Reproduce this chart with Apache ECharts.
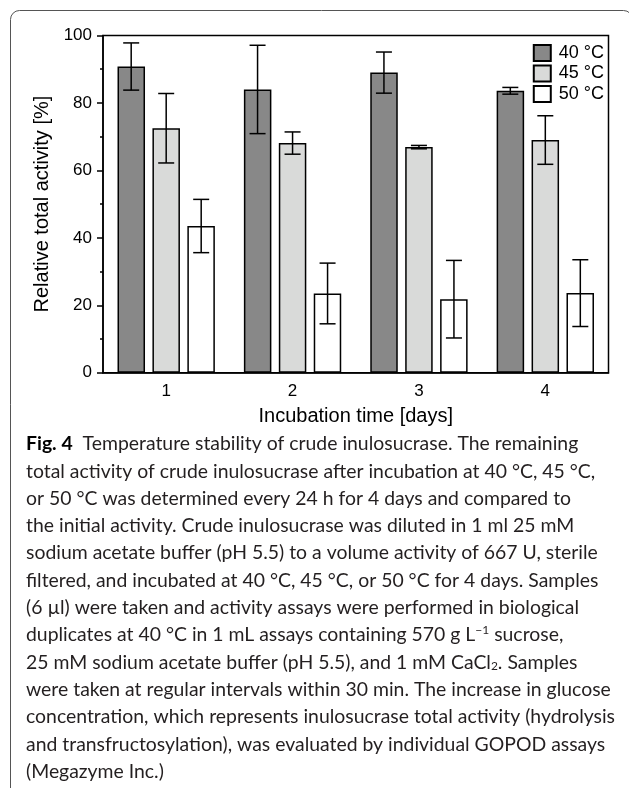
<!DOCTYPE html>
<html lang="en">
<head>
  <meta charset="utf-8">
  <style>
    html, body { margin: 0; padding: 0; background: #fff; }
    #container { width: 629px; height: 788px; }
  </style>
</head>
<body>
  <div id="container"></div>
  <script type="text/javascript" src="https://fastly.jsdelivr.net/npm/echarts@6/dist/echarts.min.js"></script>
  <script type="text/javascript">
    // data
    const days = ['1', '2', '3', '4'];
    const seriesNames = ['40 °C', '45 °C', '50 °C'];
    const mean40 = [90.8, 84.0, 89.0, 83.6];
    const err40 = [7.0, 13.1, 6.1, 1.0];
    const mean45 = [72.5, 68.1, 66.9, 69.0];
    const err45 = [10.3, 3.3, 0.5, 7.2];
    const mean50 = [43.5, 23.5, 21.8, 23.6];
    const err50 = [7.9, 9.0, 11.5, 9.9];
    const yTicks = [0, 20, 40, 60, 80, 100];

    const captionLines = [
      '{b|Fig. 4}  Temperature stability of crude inulosucrase. The remaining',
      'total activity of crude inulosucrase after incubation at 40 °C, 45 °C,',
      'or 50 °C was determined every 24 h for 4 days and compared to',
      'the initial activity. Crude inulosucrase was diluted in 1 ml 25 mM',
      'sodium acetate buffer (pH 5.5) to a volume activity of 667 U, sterile',
      'filtered, and incubated at 40 °C, 45 °C, or 50 °C for 4 days. Samples',
      '(6 µl) were taken and activity assays were performed in biological',
      'duplicates at 40 °C in 1 mL assays containing 570 g L{sup|−1} sucrose,',
      '25 mM sodium acetate buffer (pH 5.5), and 1 mM CaCl{sub|2}. Samples',
      'were taken at regular intervals within 30 min. The increase in glucose',
      'concentration, which represents inulosucrase total activity (hydrolysis',
      'and transfructosylation), was evaluated by individual GOPOD assays',
      '(Megazyme Inc.)'
    ];

    const barColors = ['#888888', '#d9dad9', '#ffffff'];
    const BAR_W = 27.5;
    const BAR_STEP = 35; // bar width + gap, in px
    const FONT = '"Liberation Sans", Arial, Helvetica, sans-serif';
    const CAP_FONT = 'Lato, "Noto Sans", sans-serif';
    const CAP_SIZE = 19.4;

    var chart = echarts.init(document.getElementById('container'), null, { renderer: 'canvas' });

    function barSeries(name, values, color) {
      return {
        name: name,
        type: 'bar',
        data: values,
        barWidth: BAR_W,
        barGap: '27%',
        itemStyle: { color: color, borderColor: '#000', borderWidth: 1.5 },
        emphasis: { disabled: true },
        z: 2
      };
    }

    function errorSeries(name, means, errs, offset) {
      return {
        name: name,
        type: 'custom',
        data: means.map(function (m, i) { return [i, m - errs[i], m + errs[i]]; }),
        encode: { x: 0, y: [1, 2] },
        z: 10,
        silent: true,
        renderItem: function (params, api) {
          var lo = api.coord([api.value(0), api.value(1)]);
          var hi = api.coord([api.value(0), api.value(2)]);
          var x = lo[0] + offset;
          var hw = 8;
          var st = { stroke: '#000', lineWidth: 1.5 };
          return {
            type: 'group',
            children: [
              { type: 'line', shape: { x1: x, y1: hi[1], x2: x, y2: lo[1] }, style: st },
              { type: 'line', shape: { x1: x - hw, y1: hi[1], x2: x + hw, y2: hi[1] }, style: st },
              { type: 'line', shape: { x1: x - hw, y1: lo[1], x2: x + hw, y2: lo[1] }, style: st }
            ]
          };
        }
      };
    }

    var graphics = [
      {
        type: 'rect',
        shape: { x: 10.5, y: 10.5, width: 622, height: 800, r: 9 },
        style: { fill: 'none', stroke: '#555', lineWidth: 1 },
        silent: true
      }
    ];
    captionLines.forEach(function (line, i) {
      graphics.push({
        type: 'text',
        x: 26,
        y: 444 + i * 27.3,
        silent: true,
        style: {
          text: line,
          fontFamily: CAP_FONT,
          fontSize: CAP_SIZE,
          fill: '#231f20',
          verticalAlign: 'middle',
          rich: {
            b: { fontFamily: CAP_FONT, fontSize: CAP_SIZE, fontWeight: 'bold', fill: '#000' },
            sup: { fontFamily: CAP_FONT, fontSize: 12, fill: '#231f20', verticalAlign: 'top', lineHeight: 22 },
            sub: { fontFamily: CAP_FONT, fontSize: 12, fill: '#231f20', verticalAlign: 'bottom', lineHeight: 16 }
          }
        }
      });
    });

    var option = {
      animation: false,
      backgroundColor: '#fff',
      grid: {
        left: 103,
        right: 20.5,
        top: 35.5,
        bottom: 415.3,
        containLabel: false,
        outerBoundsMode: 'none',
        show: true,
        borderColor: '#000',
        borderWidth: 1.5,
        backgroundColor: 'transparent'
      },
      legend: {
        data: seriesNames,
        orient: 'vertical',
        right: 25,
        top: 44,
        padding: 0,
        itemWidth: 17,
        itemHeight: 16,
        itemGap: 2.5,
        icon: 'rect',
        selectedMode: false,
        textStyle: { fontFamily: FONT, fontSize: 18, color: '#000', padding: [0, 0, 0, 3] }
      },
      xAxis: {
        type: 'category',
        data: days,
        name: 'Incubation time [days]',
        nameLocation: 'middle',
        nameGap: 34,
        nameTextStyle: { fontFamily: FONT, fontSize: 20, color: '#000' },
        axisLine: { lineStyle: { color: '#000', width: 1.5 } },
        axisTick: { alignWithLabel: true, length: 5, lineStyle: { color: '#000', width: 1.5 } },
        axisLabel: { margin: 10, fontFamily: FONT, fontSize: 17, color: '#000' },
        splitLine: { show: false }
      },
      yAxis: {
        type: 'value',
        min: yTicks[0],
        max: yTicks[yTicks.length - 1],
        interval: yTicks[1] - yTicks[0],
        name: 'Relative total activity [%]',
        nameLocation: 'middle',
        nameGap: 47,
        nameTextStyle: { fontFamily: FONT, fontSize: 20, color: '#000' },
        axisLine: { show: true, lineStyle: { color: '#000', width: 1.5 } },
        axisTick: { show: true, length: 6, lineStyle: { color: '#000', width: 1.5 } },
        minorTick: { show: true, splitNumber: 2, length: 3, lineStyle: { color: '#000', width: 1.5 } },
        axisLabel: { margin: 11, fontFamily: FONT, fontSize: 17, color: '#000' },
        splitLine: { show: false }
      },
      series: [
        barSeries(seriesNames[0], mean40, barColors[0]),
        barSeries(seriesNames[1], mean45, barColors[1]),
        barSeries(seriesNames[2], mean50, barColors[2]),
        errorSeries('err40', mean40, err40, -BAR_STEP),
        errorSeries('err45', mean45, err45, 0),
        errorSeries('err50', mean50, err50, BAR_STEP)
      ],
      graphic: { elements: graphics }
    };

    chart.setOption(option);
    window.addEventListener('resize', chart.resize);
  </script>
</body>
</html>
